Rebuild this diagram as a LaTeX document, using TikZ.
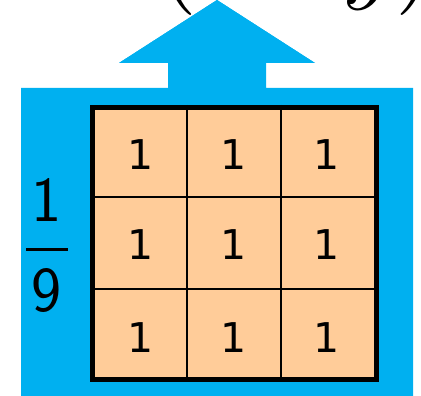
\documentclass[tikz,border=0pt]{standalone}
\usepackage{fontspec}
\newfontfamily\cellfont{DejaVu Sans}
\definecolor{kblue}{RGB}{0,176,240}
\definecolor{kcell}{RGB}{255,204,153}
\tikzset{
  digit/.style={inner sep=0pt, anchor=center, font=\cellfont\fontsize{41}{41}\selectfont},
  fracdigit/.style={inner sep=0pt, anchor=center, font=\sffamily\fontsize{64}{64}\selectfont},
  thinline/.style={line width=1.5pt, black},
}
\begin{document}
\begin{tikzpicture}[x=1pt,y=-1pt]
\useasboundingbox (0,0) rectangle (421,396);
% blue panel with upward arrow
\fill[kblue] (21,88) -- (168,88) -- (168,63) -- (119,63) -- (217,0) -- (315,63) -- (266,63) -- (266,88) -- (413,88) -- (413,396) -- (21,396) -- cycle;
% top label (cropped)
\node[inner sep=0pt, anchor=base west, scale=10] (lbl) at (156,-9) {$(x\raisebox{1.5pt}{$,$}\hspace{6.1pt}y)$};
\fill[kblue] (168,63) -- (119,63) -- (217,0) -- (315,63) -- (266,63) -- cycle;
% grid
\fill[kcell] (90,105) rectangle (379,382);
\draw[thinline] (187,105) -- (187,382);
\draw[thinline] (281,105) -- (281,382);
\draw[thinline] (90,197) -- (379,197);
\draw[thinline] (90,289) -- (379,289);
\draw[line width=5pt, black] (92.5,107.5) rectangle (376.5,379.5);
% digits
\foreach \c/\x in {1/141,2/234,3/327}{
  \foreach \r/\y in {1/155,2/245,3/338}{
    \node[digit] (d\r\c) at (\x,\y) {1};
  }
}
% fraction 1/9
\node[fracdigit] (num) at (47,200) {1};
\node[fracdigit] (den) at (47,291) {9};
\draw[line width=3pt] (26,249) -- (68,249);
\end{tikzpicture}
\end{document}
